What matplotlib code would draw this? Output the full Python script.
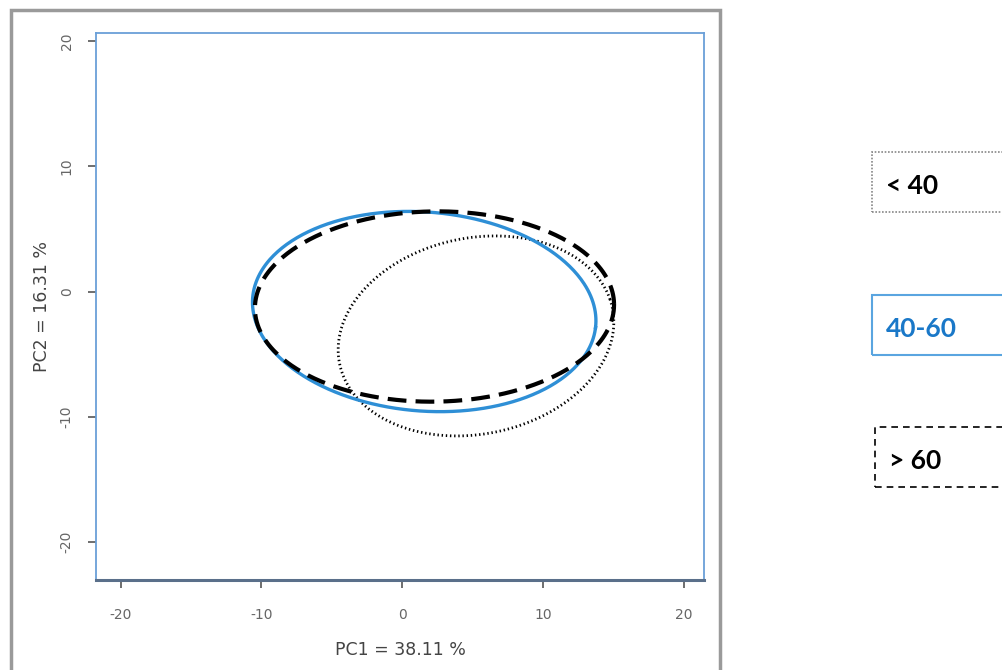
import numpy as np
import matplotlib.pyplot as plt
from matplotlib.patches import Rectangle

# group ellipses (PCA score space): centre, semi-axes, rotation in degrees
groups = ['< 40', '40-60', '> 60']
centre_x = [5.25, 1.57, 2.3]
centre_y = [-3.55, -1.6, -1.2]
semi_a = [9.96, 12.24, 12.76]
semi_b = [7.78, 7.94, 7.6]
angle_deg = [17.0, -6.0, 1.0]

x_ticks = [-20, -10, 0, 10, 20]
y_ticks = [-20, -10, 0, 10, 20]
x_label = 'PC1 = 38.11 %'
y_label = 'PC2 = 16.31 %'

blue = '#2e8fd6'
styles = {
    '< 40': dict(color='black', lw=2.0, linestyle=(0, (0.5, 1.0))),
    '40-60': dict(color=blue, lw=2.4, linestyle='-'),
    '> 60': dict(color='black', lw=3.0, linestyle=(0, (4.5, 2.2))),
}


def ellipse_points(cx, cy, a, b, ang, n=400):
    t = np.linspace(0, 2 * np.pi, n)
    th = np.deg2rad(ang)
    x = cx + a * np.cos(t) * np.cos(th) - b * np.sin(t) * np.sin(th)
    y = cy + a * np.cos(t) * np.sin(th) + b * np.sin(t) * np.cos(th)
    return x, y


fig = plt.figure(figsize=(10.02, 6.70), dpi=100)

# outer frame of the pasted R plot
frame = Rectangle((11 / 1002, -0.05), (720 - 11) / 1002, 1 - 10 / 670 + 0.05,
                  transform=fig.transFigure, fill=False, edgecolor='#9a9a9a', lw=2.5)
fig.add_artist(frame)

ax = fig.add_axes([0.0958, 0.1343, 0.6068, 0.8164])
for g, cx, cy, a, b, ang in zip(groups, centre_x, centre_y, semi_a, semi_b, angle_deg):
    x, y = ellipse_points(cx, cy, a, b, ang)
    ax.plot(x, y, **styles[g])

ax.set_xlim(-21.75, 21.45)
ax.set_ylim(-23.05, 20.65)
ax.set_xticks(x_ticks)
ax.set_yticks(y_ticks)
ax.set_xticklabels([str(v) for v in x_ticks])
ax.set_yticklabels([str(v) for v in y_ticks], rotation=90, va='center')
ax.tick_params(colors='#555555', labelcolor='#666666', labelsize=10, length=6, width=1.2, pad=10)
ax.tick_params(axis='x', pad=14)
for s in ax.spines.values():
    s.set_color('#6a9fd8')
    s.set_linewidth(1.3)
ax.spines['bottom'].set_color('#5a6f8a')
ax.spines['bottom'].set_linewidth(2.2)
ax.set_xlabel(x_label, fontsize=12.5, color='#444444', labelpad=14)
ax.set_ylabel(y_label, fontsize=12.5, color='#444444', labelpad=6)

# legend boxes on the right (cut off at the figure edge)
legend_y = [182, 325, 457]
legend_left = [872, 872, 875]
box_h = 60
box_styles = {
    '< 40': dict(edgecolor='#888888', linestyle=(0, (1, 1)), lw=1.2, text='black'),
    '40-60': dict(edgecolor='#5aa5e0', linestyle='-', lw=1.5, text='#1a78c8'),
    '> 60': dict(edgecolor='black', linestyle=(0, (4, 3)), lw=1.2, text='black'),
}
for g, yc, xl in zip(groups, legend_y, legend_left):
    st = box_styles[g]
    r = Rectangle((xl / 1002, 1 - (yc + box_h / 2) / 670), 0.2, box_h / 670,
                  transform=fig.transFigure, fill=False, edgecolor=st['edgecolor'],
                  linestyle=st['linestyle'], lw=st['lw'])
    fig.add_artist(r)
    fig.text((xl + 14) / 1002, 1 - (yc + 4) / 670, g, fontsize=19, fontweight='bold',
             color=st['text'], va='center', ha='left', family='Lato')

fig.savefig('out.png', dpi=100)
